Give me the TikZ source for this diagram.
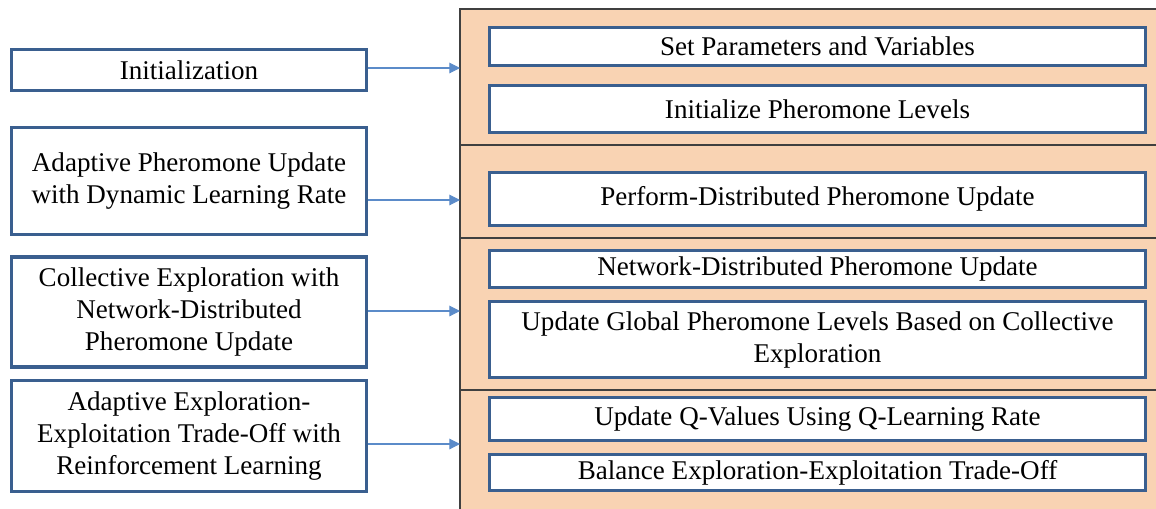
\documentclass[tikz,border=0pt]{standalone}
\usepackage{fontspec}
\setmainfont{Liberation Serif}
\usetikzlibrary{arrows.meta}

\definecolor{boxblue}{HTML}{3A5F8F}
\definecolor{arrowblue}{HTML}{5B8BC9}
\definecolor{panelfill}{HTML}{F9D3B3}
\definecolor{panelline}{HTML}{404040}

\tikzset{
  stagebox/.style={draw=boxblue, line width=2.1pt, fill=white, align=center, inner sep=0pt, minimum width=7.1cm},
  stepbox/.style={stagebox, minimum width=13.12cm},
  feed/.style={draw=arrowblue, line width=0.6pt, -{Triangle[length=6pt,width=6pt]}},
}

\begin{document}
\begin{tikzpicture}[x=0.02cm, y=-0.02cm, font=\fontsize{15.4}{18.2}\selectfont]
	\useasboundingbox (0,0) rectangle (1156,508);
	
	% shaded panel with its dividers
	\fill[panelfill] (460,9) rectangle (1160,512);
	\draw[panelline, line width=0.8pt] (1160,9) -- (460,9) -- (460,512);
	\foreach \y in {145,238,390}
		\draw[panelline, line width=0.8pt] (460,\y) -- (1160,\y);
	
	% stages on the left
	\node[stagebox, minimum height=0.82cm] (init) at (189,70) {Initialization};
	\node[stagebox, minimum height=2.14cm] (adapt) at (189,181) {Adaptive Pheromone Update\\with Dynamic Learning Rate};
	\node[stagebox, minimum height=2.20cm] (collect) at (189,312) {Collective Exploration with\\Network-Distributed\\Pheromone Update};
	\node[stagebox, minimum height=2.22cm] (explore) at (189,436) {Adaptive Exploration-\\Exploitation Trade-Off with\\Reinforcement Learning};
	
	% steps inside the panel
	\node[stepbox, minimum height=0.76cm] (setpar) at (817.5,46.5) {Set Parameters and Variables};
	\node[stepbox, minimum height=0.94cm] (initph) at (817.5,109) {Initialize Pheromone Levels};
	\node[stepbox, minimum height=1.06cm] (perform) at (817.5,199) {Perform-Distributed Pheromone Update};
	\node[stepbox, minimum height=0.74cm] (netdist) at (817.5,269) {Network-Distributed Pheromone Update};
	\node[stepbox, minimum height=1.52cm] (global) at (817.5,339.5) {Update Global Pheromone Levels Based on Collective\\Exploration};
	\node[stepbox, minimum height=0.86cm] (qval) at (817.5,419) {Update Q-Values Using Q-Learning Rate};
	\node[stepbox, minimum height=0.72cm] (balance) at (817.5,472.5) {Balance Exploration-Exploitation Trade-Off};
	
	% arrows into the panel
	\coordinate (in1) at (460,68);
	\coordinate (in2) at (460,200);
	\coordinate (in3) at (460,311);
	\coordinate (in4) at (460,444);
	\draw[feed] (init.east |- in1) -- (in1);
	\draw[feed] (adapt.east |- in2) -- (in2);
	\draw[feed] (collect.east |- in3) -- (in3);
	\draw[feed] (explore.east |- in4) -- (in4);
\end{tikzpicture}
\end{document}
